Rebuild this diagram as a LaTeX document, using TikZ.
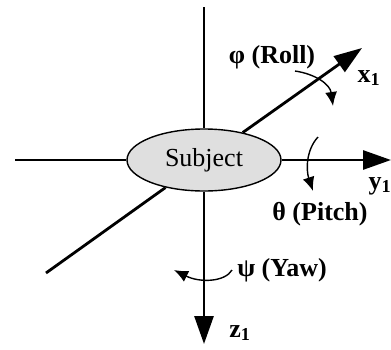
\documentclass[tikz,border=0pt]{standalone}
\usepackage{fontspec}
\setmainfont{Liberation Serif}
\usetikzlibrary{arrows.meta,shapes.geometric}

\begin{document}
\begin{tikzpicture}[x=1pt,y=-1pt,
    axis/.style={line width=2.8pt},
    tip/.style={-{Triangle[length=28pt,width=19pt]}},
    rot/.style={line width=1.4pt,-{Latex[length=14pt,width=12pt]}},
    lbl/.style={font=\fontsize{26}{30}\selectfont\bfseries,inner sep=0pt}]
      \useasboundingbox (0,0) rectangle (391,349);
      \node[draw,ellipse,fill=gray!25,line width=1.4pt,minimum width=154pt,minimum height=62pt,font=\fontsize{26}{30}\selectfont] (subject) at (204,160) {Subject};
      \coordinate (zup) at (204,7);
      \coordinate (zdown) at (204,344);
      \coordinate (yleft) at (15,160);
      \coordinate (yright) at (391,160);
      \coordinate (xback) at (46,273);
      \coordinate (xfront) at (362,48);
      \draw[axis] (zup)--(subject);
      \draw[axis] (yleft)--(subject);
      \draw[axis] (xback)--(subject);
      \draw[axis,tip] (subject)--(xfront);
      \draw[axis,tip] (subject)--(yright);
      \draw[axis,tip] (subject)--(zdown);
      % rotation arrows
      \coordinate (rollA) at (295,71);
      \coordinate (rollB) at (333,106);
      \coordinate (pitchA) at (318,137);
      \coordinate (pitchB) at (313,191);
      \coordinate (yawA) at (232,270);
      \coordinate (yawB) at (174,270);
      \draw[rot] (rollA) .. controls (315,74) and (330,84) .. (rollB);
      \draw[rot] (pitchA) .. controls (306,150) and (306,170) .. (pitchB);
      \draw[rot] (yawA) .. controls (225,282) and (200,283) .. (yawB);
      \node[lbl] (roll) at (272,57) {φ (Roll)};
      \node[lbl] (pitch) at (320,214) {θ (Pitch)};
      \node[lbl] (yaw) at (282,270) {ψ (Yaw)};
      \node[lbl] (xname) at (369,78) {x\textsubscript{1}};
      \node[lbl] (yname) at (380,186) {y\textsubscript{1}};
      \node[lbl] (zname) at (240,333) {z\textsubscript{1}};
    \end{tikzpicture}
\end{document}
